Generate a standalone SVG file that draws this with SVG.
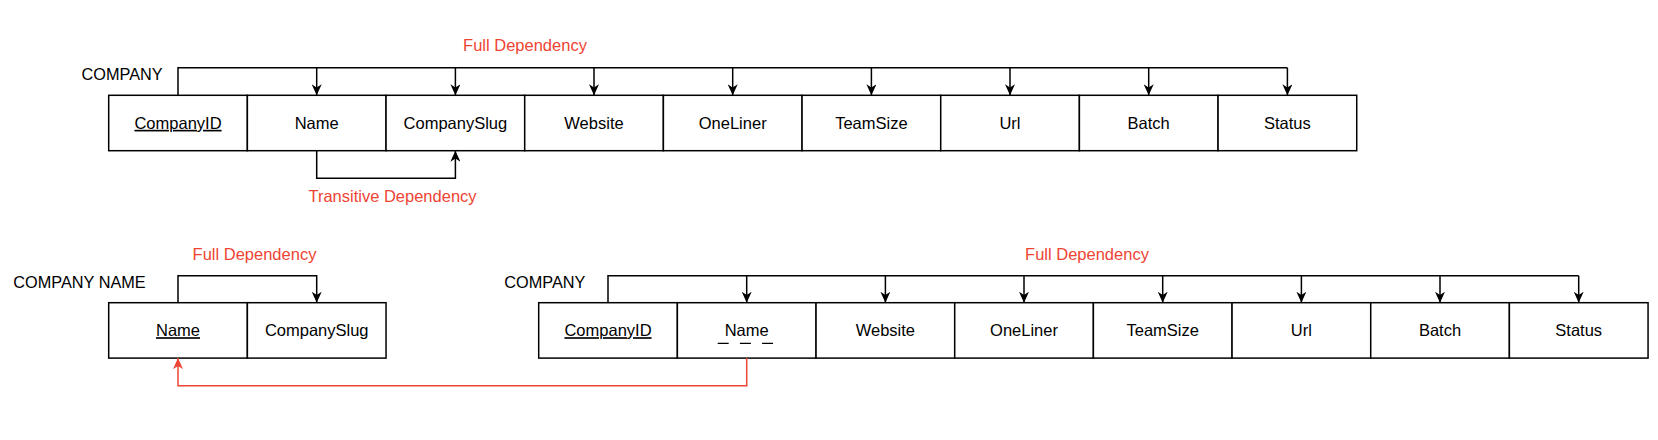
<svg xmlns="http://www.w3.org/2000/svg" width="1658" height="440" viewBox="0 0 1658 440">
<style>
.cell{fill:#fff;stroke:#000;stroke-width:1.5}
.t{font-family:"Liberation Sans",Arial,sans-serif;font-size:16.5px;fill:#000;text-anchor:middle}
.lbl{font-family:"Liberation Sans",Arial,sans-serif;font-size:16.3px;fill:#000}
.red{font-family:"Liberation Sans",Arial,sans-serif;font-size:16.5px;fill:#EE4433;text-anchor:middle}
.u{text-decoration:underline}
.c{fill:none;stroke:#000;stroke-width:1.5}
.cr{fill:none;stroke:#EE4433;stroke-width:1.5}
</style>
<defs>
<marker id="ah" viewBox="0 0 11 10" refX="11" refY="5" markerWidth="11" markerHeight="10" markerUnits="userSpaceOnUse" orient="auto">
<path d="M0,0 L11,5 L0,10 L3.2,5 Z" fill="#000"/>
</marker>
<marker id="ahr" viewBox="0 0 11 10" refX="11" refY="5" markerWidth="11" markerHeight="10" markerUnits="userSpaceOnUse" orient="auto">
<path d="M0,0 L11,5 L0,10 L3.2,5 Z" fill="#EE4433"/>
</marker>
</defs>
<rect width="1658" height="440" fill="#fff"/>

<g id="labels">
<text class="lbl" x="81.5" y="79.5">COMPANY</text>
<text class="red" x="525" y="50.5">Full Dependency</text>
<text class="red" x="392.5" y="201.5">Transitive Dependency</text>
<text class="lbl" x="13.3" y="287.5">COMPANY NAME</text>
<text class="red" x="254.5" y="259.8">Full Dependency</text>
<text class="lbl" x="504.3" y="287.5">COMPANY</text>
<text class="red" x="1087" y="259.8">Full Dependency</text>
</g>

<g id="company1">
<g id="c1-companyid"><rect class="cell" x="108.7" y="95.3" width="138.67" height="55.4"/><text class="t u" x="178" y="128.8">CompanyID</text></g>
<g id="c1-name"><rect class="cell" x="247.37" y="95.3" width="138.67" height="55.4"/><text class="t" x="316.7" y="128.8">Name</text></g>
<g id="c1-companyslug"><rect class="cell" x="386.04" y="95.3" width="138.67" height="55.4"/><text class="t" x="455.4" y="128.8">CompanySlug</text></g>
<g id="c1-website"><rect class="cell" x="524.71" y="95.3" width="138.67" height="55.4"/><text class="t" x="594" y="128.8">Website</text></g>
<g id="c1-oneliner"><rect class="cell" x="663.38" y="95.3" width="138.67" height="55.4"/><text class="t" x="732.7" y="128.8">OneLiner</text></g>
<g id="c1-teamsize"><rect class="cell" x="802.05" y="95.3" width="138.67" height="55.4"/><text class="t" x="871.4" y="128.8">TeamSize</text></g>
<g id="c1-url"><rect class="cell" x="940.72" y="95.3" width="138.67" height="55.4"/><text class="t" x="1010" y="128.8">Url</text></g>
<g id="c1-batch"><rect class="cell" x="1079.39" y="95.3" width="138.67" height="55.4"/><text class="t" x="1148.7" y="128.8">Batch</text></g>
<g id="c1-status"><rect class="cell" x="1218.06" y="95.3" width="138.67" height="55.4"/><text class="t" x="1287.4" y="128.8">Status</text></g>
</g>

<g id="companyname">
<g id="cn-name"><rect class="cell" x="108.7" y="302.7" width="138.67" height="55.4"/><text class="t u" x="178" y="336.2">Name</text></g>
<g id="cn-companyslug"><rect class="cell" x="247.37" y="302.7" width="138.67" height="55.4"/><text class="t" x="316.7" y="336.2">CompanySlug</text></g>
</g>

<g id="company2">
<g id="c2-companyid"><rect class="cell" x="538.7" y="302.7" width="138.67" height="55.4"/><text class="t u" x="608" y="336.2">CompanyID</text></g>
<g id="c2-name"><rect class="cell" x="677.37" y="302.7" width="138.67" height="55.4"/><text class="t" x="746.7" y="336.2">Name</text><line x1="717.7" y1="343.4" x2="773" y2="343.4" stroke="#000" stroke-width="1.4" stroke-dasharray="11 11.2"/></g>
<g id="c2-website"><rect class="cell" x="816.04" y="302.7" width="138.67" height="55.4"/><text class="t" x="885.4" y="336.2">Website</text></g>
<g id="c2-oneliner"><rect class="cell" x="954.71" y="302.7" width="138.67" height="55.4"/><text class="t" x="1024" y="336.2">OneLiner</text></g>
<g id="c2-teamsize"><rect class="cell" x="1093.38" y="302.7" width="138.67" height="55.4"/><text class="t" x="1162.7" y="336.2">TeamSize</text></g>
<g id="c2-url"><rect class="cell" x="1232.05" y="302.7" width="138.67" height="55.4"/><text class="t" x="1301.4" y="336.2">Url</text></g>
<g id="c2-batch"><rect class="cell" x="1370.72" y="302.7" width="138.67" height="55.4"/><text class="t" x="1440" y="336.2">Batch</text></g>
<g id="c2-status"><rect class="cell" x="1509.39" y="302.7" width="138.67" height="55.4"/><text class="t" x="1578.7" y="336.2">Status</text></g>
</g>

<g id="connectors">
<path class="c" d="M178,95.3 V67.7 H1287.4"/>
<path class="c" d="M316.7,67.7 V95.3" marker-end="url(#ah)"/>
<path class="c" d="M455.4,67.7 V95.3" marker-end="url(#ah)"/>
<path class="c" d="M594,67.7 V95.3" marker-end="url(#ah)"/>
<path class="c" d="M732.7,67.7 V95.3" marker-end="url(#ah)"/>
<path class="c" d="M871.4,67.7 V95.3" marker-end="url(#ah)"/>
<path class="c" d="M1010,67.7 V95.3" marker-end="url(#ah)"/>
<path class="c" d="M1148.7,67.7 V95.3" marker-end="url(#ah)"/>
<path class="c" d="M1287.4,67.7 V95.3" marker-end="url(#ah)"/>
<path class="c" d="M316.7,150.7 V178.3 H455.4 V150.7" marker-end="url(#ah)"/>

<path class="c" d="M178,302.7 V275.7 H316.7 V302.7" marker-end="url(#ah)"/>

<path class="c" d="M608,302.7 V275.7 H1578.7"/>
<path class="c" d="M746.7,275.7 V302.7" marker-end="url(#ah)"/>
<path class="c" d="M885.4,275.7 V302.7" marker-end="url(#ah)"/>
<path class="c" d="M1024,275.7 V302.7" marker-end="url(#ah)"/>
<path class="c" d="M1162.7,275.7 V302.7" marker-end="url(#ah)"/>
<path class="c" d="M1301.4,275.7 V302.7" marker-end="url(#ah)"/>
<path class="c" d="M1440,275.7 V302.7" marker-end="url(#ah)"/>
<path class="c" d="M1578.7,275.7 V302.7" marker-end="url(#ah)"/>

<path class="cr" d="M746.7,358.1 V385.7 H178 V358.1" marker-end="url(#ahr)"/>
</g>
</svg>
